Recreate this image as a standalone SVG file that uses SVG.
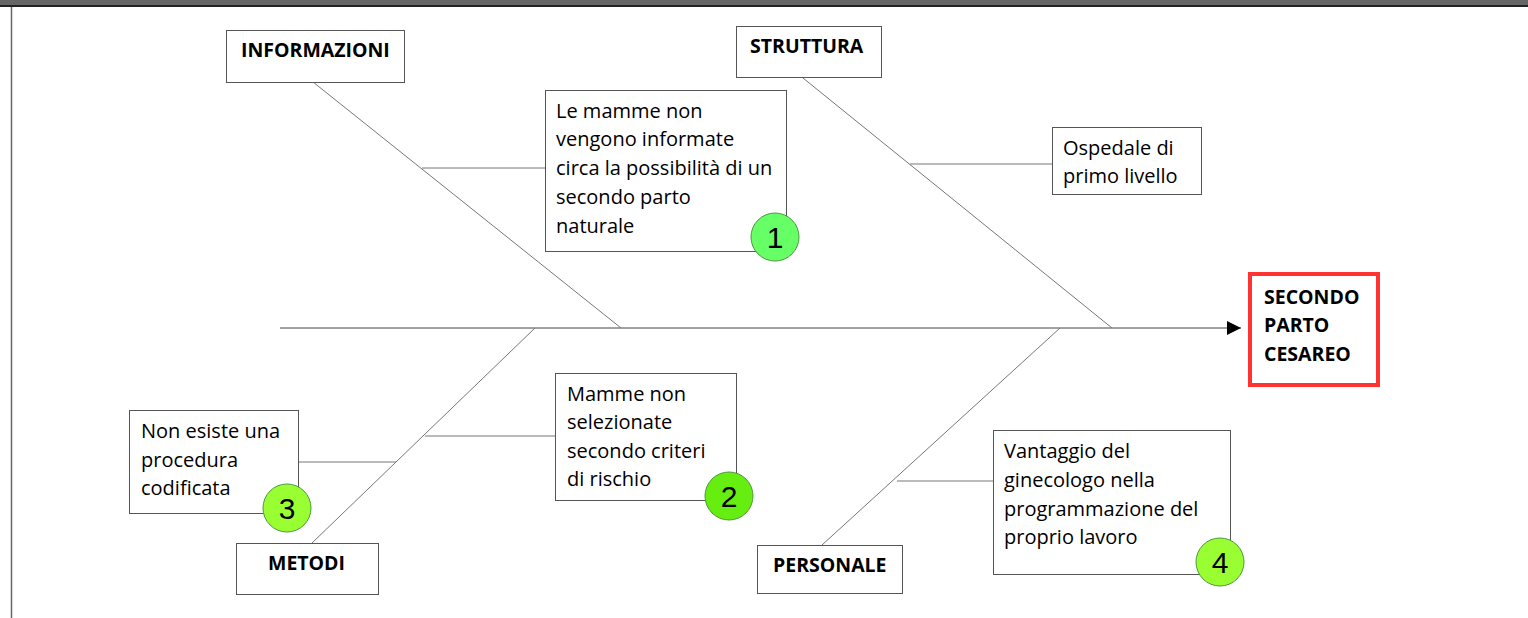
<svg xmlns="http://www.w3.org/2000/svg" width="1528" height="618" viewBox="0 0 1528 618">
<style>
.box{fill:#fff;stroke:#555;stroke-width:1}
.lbl{font-family:"Open Sans","Liberation Sans",Arial,sans-serif;font-size:19.5px;font-weight:bold;fill:#000}
.txt{font-family:"Open Sans","Liberation Sans",Arial,sans-serif;font-size:20px;fill:#000}
.bone{stroke:#777;stroke-width:1;fill:none}
.num{font-family:"Liberation Sans",Arial,sans-serif;font-size:30px;fill:#000;text-anchor:middle}
.c1{fill:#66ff66;stroke:#4a9a3a;stroke-width:1}
.c2{fill:#66ee11;stroke:#4a9a3a;stroke-width:1}
.c3{fill:#99ff33;stroke:#4a9a3a;stroke-width:1}
</style>
<defs>
<marker id="arr" viewBox="0 0 10 10" refX="10" refY="5" markerWidth="19" markerHeight="14" markerUnits="userSpaceOnUse" orient="auto">
<path d="M0,0 L10,5 L0,10 z" fill="#000"/>
</marker>
</defs>
<rect x="0" y="0" width="1528" height="618" fill="#fff"/>
<rect x="0" y="0" width="1528" height="5" fill="#666"/>
<rect x="0" y="5" width="1528" height="2" fill="#222"/>
<line x1="11.5" y1="7" x2="11.5" y2="618" stroke="#666" stroke-width="1.5"/>

<g id="connectors">
<line x1="280" y1="328" x2="1241" y2="328" stroke="#444" stroke-width="1" marker-end="url(#arr)"/>
<line class="bone" x1="313" y1="82" x2="621" y2="328"/>
<line class="bone" x1="422" y1="168" x2="545" y2="168"/>
<line class="bone" x1="803" y1="78" x2="1112" y2="328"/>
<line class="bone" x1="910" y1="164" x2="1052" y2="164"/>
<line class="bone" x1="535" y1="328" x2="312" y2="543"/>
<line class="bone" x1="425" y1="436" x2="555" y2="436"/>
<line class="bone" x1="298" y1="462" x2="396" y2="462"/>
<line class="bone" x1="1060" y1="328" x2="822" y2="545"/>
<line class="bone" x1="897" y1="481" x2="993" y2="481"/>
</g>

<g id="informazioni">
<rect class="box" x="226.5" y="30.5" width="178" height="52"/>
<text class="lbl" x="241" y="57">INFORMAZIONI</text>
</g>
<g id="struttura">
<rect class="box" x="736.5" y="26.5" width="145" height="51"/>
<text class="lbl" x="750" y="53">STRUTTURA</text>
</g>
<g id="metodi">
<rect class="box" x="236.5" y="543.5" width="142" height="51"/>
<text class="lbl" x="268" y="570">METODI</text>
</g>
<g id="personale">
<rect class="box" x="757.5" y="545.5" width="145" height="48"/>
<text class="lbl" x="773" y="572">PERSONALE</text>
</g>
<g id="effetto">
<rect x="1250" y="274" width="128" height="111" fill="#fff" stroke="#ff3333" stroke-width="4"/>
<text class="lbl" x="1264" y="304">SECONDO</text>
<text class="lbl" x="1264" y="332">PARTO</text>
<text class="lbl" x="1264" y="361">CESAREO</text>
</g>
<g id="causa1">
<rect class="box" x="545.5" y="90.5" width="241" height="161"/>
<text class="txt" x="556" y="118">Le mamme non</text>
<text class="txt" x="556" y="146">vengono informate</text>
<text class="txt" x="556" y="175">circa la possibilità di un</text>
<text class="txt" x="556" y="204">secondo parto</text>
<text class="txt" x="556" y="233">naturale</text>
<circle class="c1" cx="775" cy="237" r="24"/>
<text class="num" x="775" y="248">1</text>
</g>
<g id="ospedale">
<rect class="box" x="1052.5" y="127.5" width="149" height="67"/>
<text class="txt" x="1063" y="155">Ospedale di</text>
<text class="txt" x="1063" y="183">primo livello</text>
</g>
<g id="causa2">
<rect class="box" x="555.5" y="373.5" width="181" height="127"/>
<text class="txt" x="567" y="401">Mamme non</text>
<text class="txt" x="567" y="429">selezionate</text>
<text class="txt" x="567" y="458">secondo criteri</text>
<text class="txt" x="567" y="486">di rischio</text>
<circle class="c2" cx="729" cy="496" r="24"/>
<text class="num" x="729" y="507">2</text>
</g>
<g id="causa3">
<rect class="box" x="129.5" y="410.5" width="169" height="103"/>
<text class="txt" x="141" y="438">Non esiste una</text>
<text class="txt" x="141" y="467">procedura</text>
<text class="txt" x="141" y="495">codificata</text>
<circle class="c3" cx="287" cy="508" r="24"/>
<text class="num" x="287" y="519">3</text>
</g>
<g id="causa4">
<rect class="box" x="993.5" y="430.5" width="237" height="144"/>
<text class="txt" x="1004" y="458">Vantaggio del</text>
<text class="txt" x="1004" y="487">ginecologo nella</text>
<text class="txt" x="1004" y="516">programmazione del</text>
<text class="txt" x="1004" y="544">proprio lavoro</text>
<circle class="c3" cx="1220" cy="562" r="24"/>
<text class="num" x="1220" y="573">4</text>
</g>
</svg>
